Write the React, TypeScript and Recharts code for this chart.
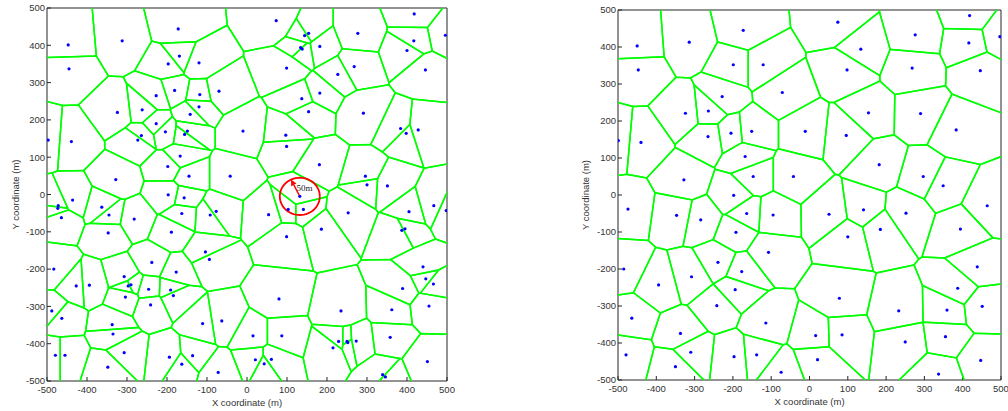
import React from "react";
import { ScatterChart, Scatter, XAxis, YAxis, ReferenceLine, ReferenceDot } from "recharts";

// tick values shared by both panels
const axisTicks = [-500, -400, -300, -200, -100, 0, 100, 200, 300, 400, 500];

// sensor positions, left panel (all nodes)
const leftSites: [number, number][] = [
  [-172, 444], [-447, 401], [-312, 412], [-445, 337], [-169, 371], [-197, 350], [-120, 353],
  [-181, 279], [-227, 265], [-118, 268], [-70, 277], [-120, 235], [-142, 215], [-262, 227],
  [-324, 220], [-227, 190], [-204, 168], [-264, 158], [-273, 146], [-149, 170], [-156, 161],
  [-10, 170], [-497, 146], [-439, 142], [-167, 103], [-198, 75], [-145, 49], [-42, 49],
  [-328, 40], [-197, -1], [-157, -9], [-436, -15],
  [73, 466], [144, 426], [154, 432], [134, 394], [138, 390], [182, 397], [277, 432],
  [418, 484], [417, 412], [400, 386], [496, 427], [99, 339], [227, 322], [268, 343],
  [446, 334], [182, 272], [137, 257], [154, 222], [291, 218], [97, 159], [99, 129],
  [384, 177], [398, 164], [428, 173], [181, 80], [296, 49], [300, 26], [351, 23],
  [132, -5], [103, -40], [141, -40], [54, -54], [253, -49], [405, -46], [467, -30],
  [498, -43], [99, -113], [186, -93], [387, -96], [395, -92], [440, -194], [447, -226],
  [466, -240], [389, -252], [455, -299], [362, -309], [80, -280], [235, -312], [15, -379],
  [87, -379], [358, -383], [229, -394], [250, -394], [252, -397], [273, -393], [215, -411],
  [21, -443], [43, -454], [61, -442], [451, -448], [339, -483], [346, -489],
  [-472, -30], [-473, -37], [-464, -62], [-363, -34], [-345, -55], [-282, -66], [-347, -103],
  [-163, -51], [-92, -55], [-77, -45], [-189, -101], [-104, -154], [-94, -174], [-238, -182],
  [-177, -208], [-483, -200], [-427, -245], [-394, -243], [-307, -220], [-297, -245],
  [-290, -242], [-304, -275], [-246, -254], [-241, -296], [-191, -256], [-184, -271],
  [-488, -312], [-463, -332], [-337, -349], [-335, -374], [-111, -346], [-63, -339],
  [-479, -431], [-455, -431], [-307, -424], [-348, -463], [-194, -436], [-163, -455],
  [-136, -432], [-72, -477],
];

// sensor positions, right panel (after thinning)
const rightSites: [number, number][] = [
  [-450, 403], [-314, 413], [-173, 445], [-447, 338], [-199, 352], [-121, 352], [-71, 277],
  [-228, 266], [-324, 221], [-264, 227], [-205, 167], [-151, 172], [-11, 172], [-265, 158],
  [-499, 147], [-440, 142], [-168, 104], [-147, 50], [-42, 50], [-328, 41], [-198, -1],
  [74, 467], [134, 394], [98, 338], [276, 433], [418, 485], [416, 411], [497, 428],
  [268, 343], [446, 336], [154, 222], [290, 220], [96, 161], [383, 176], [182, 82],
  [297, 50], [349, 25],
  [-474, -38], [-347, -55], [-284, -67], [-164, -50], [-95, -54], [-192, -101], [-107, -155],
  [-485, -200], [-239, -182], [-177, -207], [-394, -243], [-308, -221], [-194, -256],
  [-242, -299], [-464, -333], [-337, -374], [-114, -346], [-479, -432], [-310, -425],
  [-350, -464], [-197, -437], [-138, -432], [-74, -479],
  [51, -52], [141, -40], [252, -49], [464, -29], [100, -113], [185, -93], [394, -92],
  [438, -194], [387, -252], [451, -301], [78, -279], [233, -313], [359, -311], [16, -380],
  [85, -378], [355, -383], [250, -397], [21, -445], [447, -447], [337, -484],
];

// sensing range annotation on the left panel
const rangeCenter: [number, number] = [132, -5];
const rangeRadius = 50;
const rangeArrowAngle = 116;
const rangeLabel = "50m";
const rangeLabelPos: [number, number] = [124, 9];

type Pt = { x: number; y: number };

// voronoi cell of every site, clipped to a box a bit larger than the axes
function voronoiCells(sites: [number, number][], pad = 530): Pt[][] {
  return sites.map(([px, py], i) => {
    let poly: Pt[] = [
      { x: -pad, y: -pad },
      { x: pad, y: -pad },
      { x: pad, y: pad },
      { x: -pad, y: pad },
    ];
    sites.forEach(([qx, qy], j) => {
      if (i === j || poly.length === 0) return;
      const nx = qx - px;
      const ny = qy - py;
      if (nx === 0 && ny === 0) return;
      const c = (qx * qx + qy * qy - px * px - py * py) / 2;
      const out: Pt[] = [];
      for (let k = 0; k < poly.length; k++) {
        const a = poly[k];
        const b = poly[(k + 1) % poly.length];
        const da = a.x * nx + a.y * ny - c;
        const db = b.x * nx + b.y * ny - c;
        if (da <= 0) out.push(a);
        if ((da < 0 && db > 0) || (da > 0 && db < 0)) {
          const t = da / (da - db);
          out.push({ x: a.x + t * (b.x - a.x), y: a.y + t * (b.y - a.y) });
        }
      }
      poly = out;
    });
    return poly.length ? [...poly, poly[0]] : [];
  });
}

const circlePoints = (cx: number, cy: number, r: number): Pt[] => {
  const pts: Pt[] = [];
  for (let a = 0; a <= 360; a += 6) {
    const t = (a * Math.PI) / 180;
    pts.push({ x: cx + r * Math.cos(t), y: cy + r * Math.sin(t) });
  }
  return pts;
};

const font = "'Liberation Sans', Arial, sans-serif";
const tickStyle = { fontSize: 9.5, fill: "#333", fontFamily: font };
const axisColor = "#262626";

const NoDot = () => <g />;
const SiteDot = (p: any) => <circle cx={p.cx} cy={p.cy} r={1.6} fill="#0000ff" />;

function ArrowShape(props: any) {
  const { x1, y1, x2, y2 } = props;
  const ang = Math.atan2(y2 - y1, x2 - x1);
  const len = 6;
  const half = 3;
  const bx = x2 - len * Math.cos(ang);
  const by = y2 - len * Math.sin(ang);
  const pts = `${x2},${y2} ${bx - half * Math.sin(ang)},${by + half * Math.cos(ang)} ${bx + half * Math.sin(ang)},${by - half * Math.cos(ang)}`;
  return (
    <g>
      <line x1={x1} y1={y1} x2={bx} y2={by} stroke="#ff0000" strokeWidth={1.4} />
      <polygon points={pts} fill="#ff0000" />
    </g>
  );
}

function VoronoiPanel({
  sites,
  width,
  margin,
  yAxisWidth,
  withRange,
}: {
  sites: [number, number][];
  width: number;
  margin: { top: number; right: number; bottom: number; left: number };
  yAxisWidth: number;
  withRange?: boolean;
}) {
  const cells = voronoiCells(sites);
  const dots = sites.map(([x, y]) => ({ x, y }));
  const t = (rangeArrowAngle * Math.PI) / 180;
  const tip = {
    x: rangeCenter[0] + rangeRadius * Math.cos(t),
    y: rangeCenter[1] + rangeRadius * Math.sin(t),
  };
  return (
    <ScatterChart width={width} height={411} margin={margin}>
      <XAxis
        type="number"
        dataKey="x"
        domain={[-500, 500]}
        ticks={axisTicks}
        allowDataOverflow
        height={30}
        tickSize={-4}
        tickMargin={9.5}
        tick={tickStyle}
        stroke={axisColor}
        label={{ value: "X coordinate (m)", position: "insideBottom", offset: 5, style: { fontSize: 9.5, fill: "#333", fontFamily: font } }}
      />
      <XAxis
        xAxisId="top"
        orientation="top"
        type="number"
        dataKey="x"
        domain={[-500, 500]}
        ticks={axisTicks}
        height={1}
        tickSize={-4}
        tick={false}
        stroke={axisColor}
      />
      <YAxis
        type="number"
        dataKey="y"
        domain={[-500, 500]}
        ticks={axisTicks}
        allowDataOverflow
        width={yAxisWidth}
        tickSize={-4}
        tickMargin={6}
        tick={tickStyle}
        stroke={axisColor}
        label={{
          value: "Y coordinate (m)",
          angle: -90,
          position: "insideLeft",
          offset: 16,
          style: { textAnchor: "middle", fontSize: 9.5, fill: "#333", fontFamily: font },
        }}
      />
      <YAxis
        yAxisId="right"
        orientation="right"
        type="number"
        dataKey="y"
        domain={[-500, 500]}
        ticks={axisTicks}
        width={1}
        tickSize={-4}
        tick={false}
        stroke={axisColor}
      />
      {cells.map((cell, i) => (
        <Scatter
          key={`cell-${i}`}
          data={cell}
          fill="#00ff00"
          line={{ stroke: "#00ff00", strokeWidth: 1.5 }}
          lineType="joint"
          shape={NoDot}
          isAnimationActive={false}
        />
      ))}
      {withRange && (
        <Scatter
          data={circlePoints(rangeCenter[0], rangeCenter[1], rangeRadius)}
          fill="#ff0000"
          line={{ stroke: "#ff0000", strokeWidth: 1.8 }}
          lineType="joint"
          shape={NoDot}
          isAnimationActive={false}
        />
      )}
      {withRange && (
        <ReferenceLine
          segment={[
            { x: rangeCenter[0], y: rangeCenter[1] },
            { x: tip.x, y: tip.y },
          ]}
          shape={ArrowShape}
        />
      )}
      <Scatter data={dots} fill="#0000ff" shape={SiteDot} isAnimationActive={false} />
      {withRange && (
        <ReferenceDot
          x={rangeLabelPos[0]}
          y={rangeLabelPos[1]}
          r={0}
          shape={(p: any) => (
            <text x={p.cx} y={p.cy} fontSize={9} fontFamily="'Liberation Serif', 'Times New Roman', serif" fill="#222">
              {rangeLabel}
            </text>
          )}
        />
      )}
    </ScatterChart>
  );
}

export default function App() {
  return (
    <div style={{ position: "absolute", left: 0, top: 0, width: 1008, height: 411, background: "#fff" }}>
      <div style={{ position: "absolute", left: 0, top: 0 }}>
        <VoronoiPanel
          sites={leftSites}
          width={460}
          margin={{ top: 7, right: 12, bottom: 0, left: 0 }}
          yAxisWidth={47}
          withRange
        />
      </div>
      <div style={{ position: "absolute", left: 570, top: 0 }}>
        <VoronoiPanel
          sites={rightSites}
          width={438}
          margin={{ top: 9, right: 6, bottom: 1, left: 0 }}
          yAxisWidth={48}
        />
      </div>
    </div>
  );
}
